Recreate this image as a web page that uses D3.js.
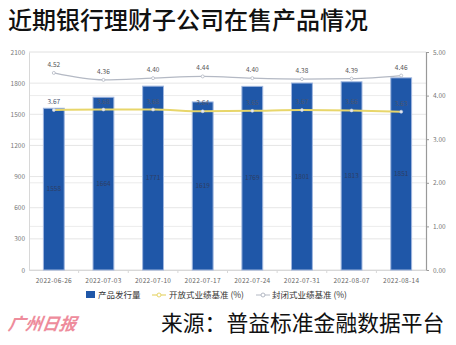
<!DOCTYPE html>
<html><head><meta charset="utf-8">
<script src="https://cdn.jsdelivr.net/npm/d3@7"></script>
<style>body{margin:0;background:#fff}svg{display:block}</style>
</head><body>
<script>
const dates = ["2022-06-26","2022-07-03","2022-07-10","2022-07-17","2022-07-24","2022-07-31","2022-08-07","2022-08-14"];
const issuance = [1558,1664,1771,1619,1769,1801,1813,1851];
const openRate = [3.67,3.68,3.68,3.64,3.65,3.67,3.66,3.63];
const closedRate = [4.52,4.36,4.40,4.44,4.40,4.38,4.39,4.46];
const leftTicks = [0,300,600,900,1200,1500,1800,2100];
const rightTicks = [0,1,2,3,4,5];
const seriesNames = ["产品发行量","开放式业绩基准 (%)","封闭式业绩基准 (%)"];
const title = "近期银行理财子公司在售产品情况";
const source = "来源：普益标准金融数据平台";
const logo = "广州日报";

const W=456,H=345;
const svg=d3.select("body").append("svg").attr("width",W).attr("height",H);
const font="'Noto Sans CJK SC','Noto Sans',sans-serif";
const x0=29,x1=426,yB=270,yT=52;
const x=d3.scaleBand().domain(dates).range([x0,x1]).paddingInner(0.58).paddingOuter(0.29);
const yL=d3.scaleLinear().domain([0,2100]).range([yB,yT]);
const yR=d3.scaleLinear().domain([0,5]).range([yB,yT]);

svg.append("text").attr("x",8).attr("y",29).attr("font-family",font).attr("font-size",24).attr("font-weight",500).attr("fill","#111").text(title);

// gridlines
const g=svg.append("g");
g.selectAll(".gl").data(leftTicks).join("line").attr("x1",x0).attr("x2",x1).attr("y1",d=>yL(d)).attr("y2",d=>yL(d)).attr("stroke","#e6e6e6").attr("stroke-width",1);
g.selectAll(".gr").data(rightTicks).join("line").attr("x1",x0).attr("x2",x1).attr("y1",d=>yR(d)).attr("y2",d=>yR(d)).attr("stroke","#ececec").attr("stroke-width",1);

// left axis
const la=svg.append("g").attr("transform",`translate(${x0},0)`).call(d3.axisLeft(yL).tickValues(leftTicks).tickFormat(d3.format("d")).tickSize(0).tickPadding(4));
la.select(".domain").attr("stroke","#d8d8d8");
la.selectAll("text").attr("font-family",font).attr("font-size",6.5).attr("fill","#777");
// right axis
const ra=svg.append("g").attr("transform",`translate(${x1},0)`).call(d3.axisRight(yR).tickValues(rightTicks).tickFormat(d3.format(".2f")).tickSize(3).tickPadding(4));
ra.select(".domain").attr("stroke","#999").attr("stroke-width",1.2);
ra.selectAll("line").attr("stroke","#999");
ra.selectAll("text").attr("font-family",font).attr("font-size",6.5).attr("fill","#777");
// x axis
const xa=svg.append("g").attr("transform",`translate(0,${yB})`).call(d3.axisBottom(x).tickSize(0).tickPadding(8));
xa.select(".domain").attr("stroke","#d8d8d8");
xa.selectAll("text").attr("font-family",font).attr("font-size",6.5).attr("fill","#666").attr("letter-spacing",0.3);
const step=x.step();
svg.selectAll(".xt").data(dates.slice(1)).join("line").attr("x1",d=>x(d)-x.paddingInner()*step/2).attr("x2",d=>x(d)-x.paddingInner()*step/2).attr("y1",yB).attr("y2",yB+3).attr("stroke","#d8d8d8");

// bars
svg.selectAll(".bar").data(issuance).join("rect")
 .attr("x",(d,i)=>x(dates[i])).attr("width",x.bandwidth())
 .attr("y",d=>yL(d)).attr("height",d=>yB-yL(d))
 .attr("fill","#1f57a8").attr("stroke","#9fb6df").attr("stroke-width",1);
svg.selectAll(".bl").data(issuance).join("text")
 .attr("x",(d,i)=>x(dates[i])+x.bandwidth()/2).attr("y",d=>(yL(d)+yB)/2+2)
 .attr("text-anchor","middle").attr("font-family",font).attr("font-size",6.5).attr("fill","#2c3e66").text(d=>d);

const cx=i=>x(dates[i])+x.bandwidth()/2;
// closed line
svg.append("path").datum(closedRate).attr("fill","none").attr("stroke","#b4b9c4").attr("stroke-width",1.3)
 .attr("d",d3.line().x((d,i)=>cx(i)).y(d=>yR(d)).curve(d3.curveMonotoneX));
svg.selectAll(".cp").data(closedRate).join("circle").attr("cx",(d,i)=>cx(i)).attr("cy",d=>yR(d)).attr("r",1.5).attr("fill","#fff").attr("stroke","#b4b9c4").attr("stroke-width",0.8);
svg.selectAll(".ct").data(closedRate).join("text").attr("x",(d,i)=>cx(i)).attr("y",d=>yR(d)-6)
 .attr("text-anchor","middle").attr("font-family",font).attr("font-size",6.5).attr("fill","#555").text(d=>d.toFixed(2));
// open line
svg.append("path").datum(openRate).attr("fill","none").attr("stroke","#e8d66a").attr("stroke-width",2)
 .attr("d",d3.line().x((d,i)=>cx(i)).y(d=>yR(d)).curve(d3.curveMonotoneX));
svg.selectAll(".op").data(openRate).join("circle").attr("cx",(d,i)=>cx(i)).attr("cy",d=>yR(d)).attr("r",1.5).attr("fill","#e4eaf4").attr("stroke","#c9cfd9").attr("stroke-width",0.6);
svg.selectAll(".ot").data(openRate).join("text").attr("x",(d,i)=>cx(i)).attr("y",d=>yR(d)-6)
 .attr("text-anchor","middle").attr("font-family",font).attr("font-size",6.5).attr("fill","#4a5670").text(d=>d.toFixed(2));

// legend
const lg=svg.append("g").attr("font-family",font).attr("font-size",8.5).attr("fill","#333");
lg.append("rect").attr("x",86).attr("y",291).attr("width",9).attr("height",7).attr("fill","#1f57a8");
lg.append("text").attr("x",98).attr("y",298).text(seriesNames[0]);
lg.append("line").attr("x1",152).attr("x2",166).attr("y1",295).attr("y2",295).attr("stroke","#f0e6a8").attr("stroke-width",2);
lg.append("circle").attr("cx",159).attr("cy",295).attr("r",2).attr("fill","#fff").attr("stroke","#e8d66a");
lg.append("text").attr("x",169).attr("y",298).text(seriesNames[1]);
lg.append("line").attr("x1",256).attr("x2",270).attr("y1",295).attr("y2",295).attr("stroke","#b4b9c4").attr("stroke-width",1);
lg.append("circle").attr("cx",263).attr("cy",295).attr("r",2).attr("fill","#fff").attr("stroke","#b4b9c4");
lg.append("text").attr("x",272).attr("y",298).text(seriesNames[2]);

// footer
svg.append("text").attr("x",12).attr("y",330).attr("font-family",font).attr("font-size",17).attr("font-style","italic").attr("font-weight",700).attr("fill","#ee8c9c").attr("transform","skewX(-8) translate(42,0)").text(logo);
svg.append("text").attr("x",161).attr("y",331).attr("font-family",font).attr("font-size",21.8).attr("fill","#111").text(source);
</script>
</body></html>
